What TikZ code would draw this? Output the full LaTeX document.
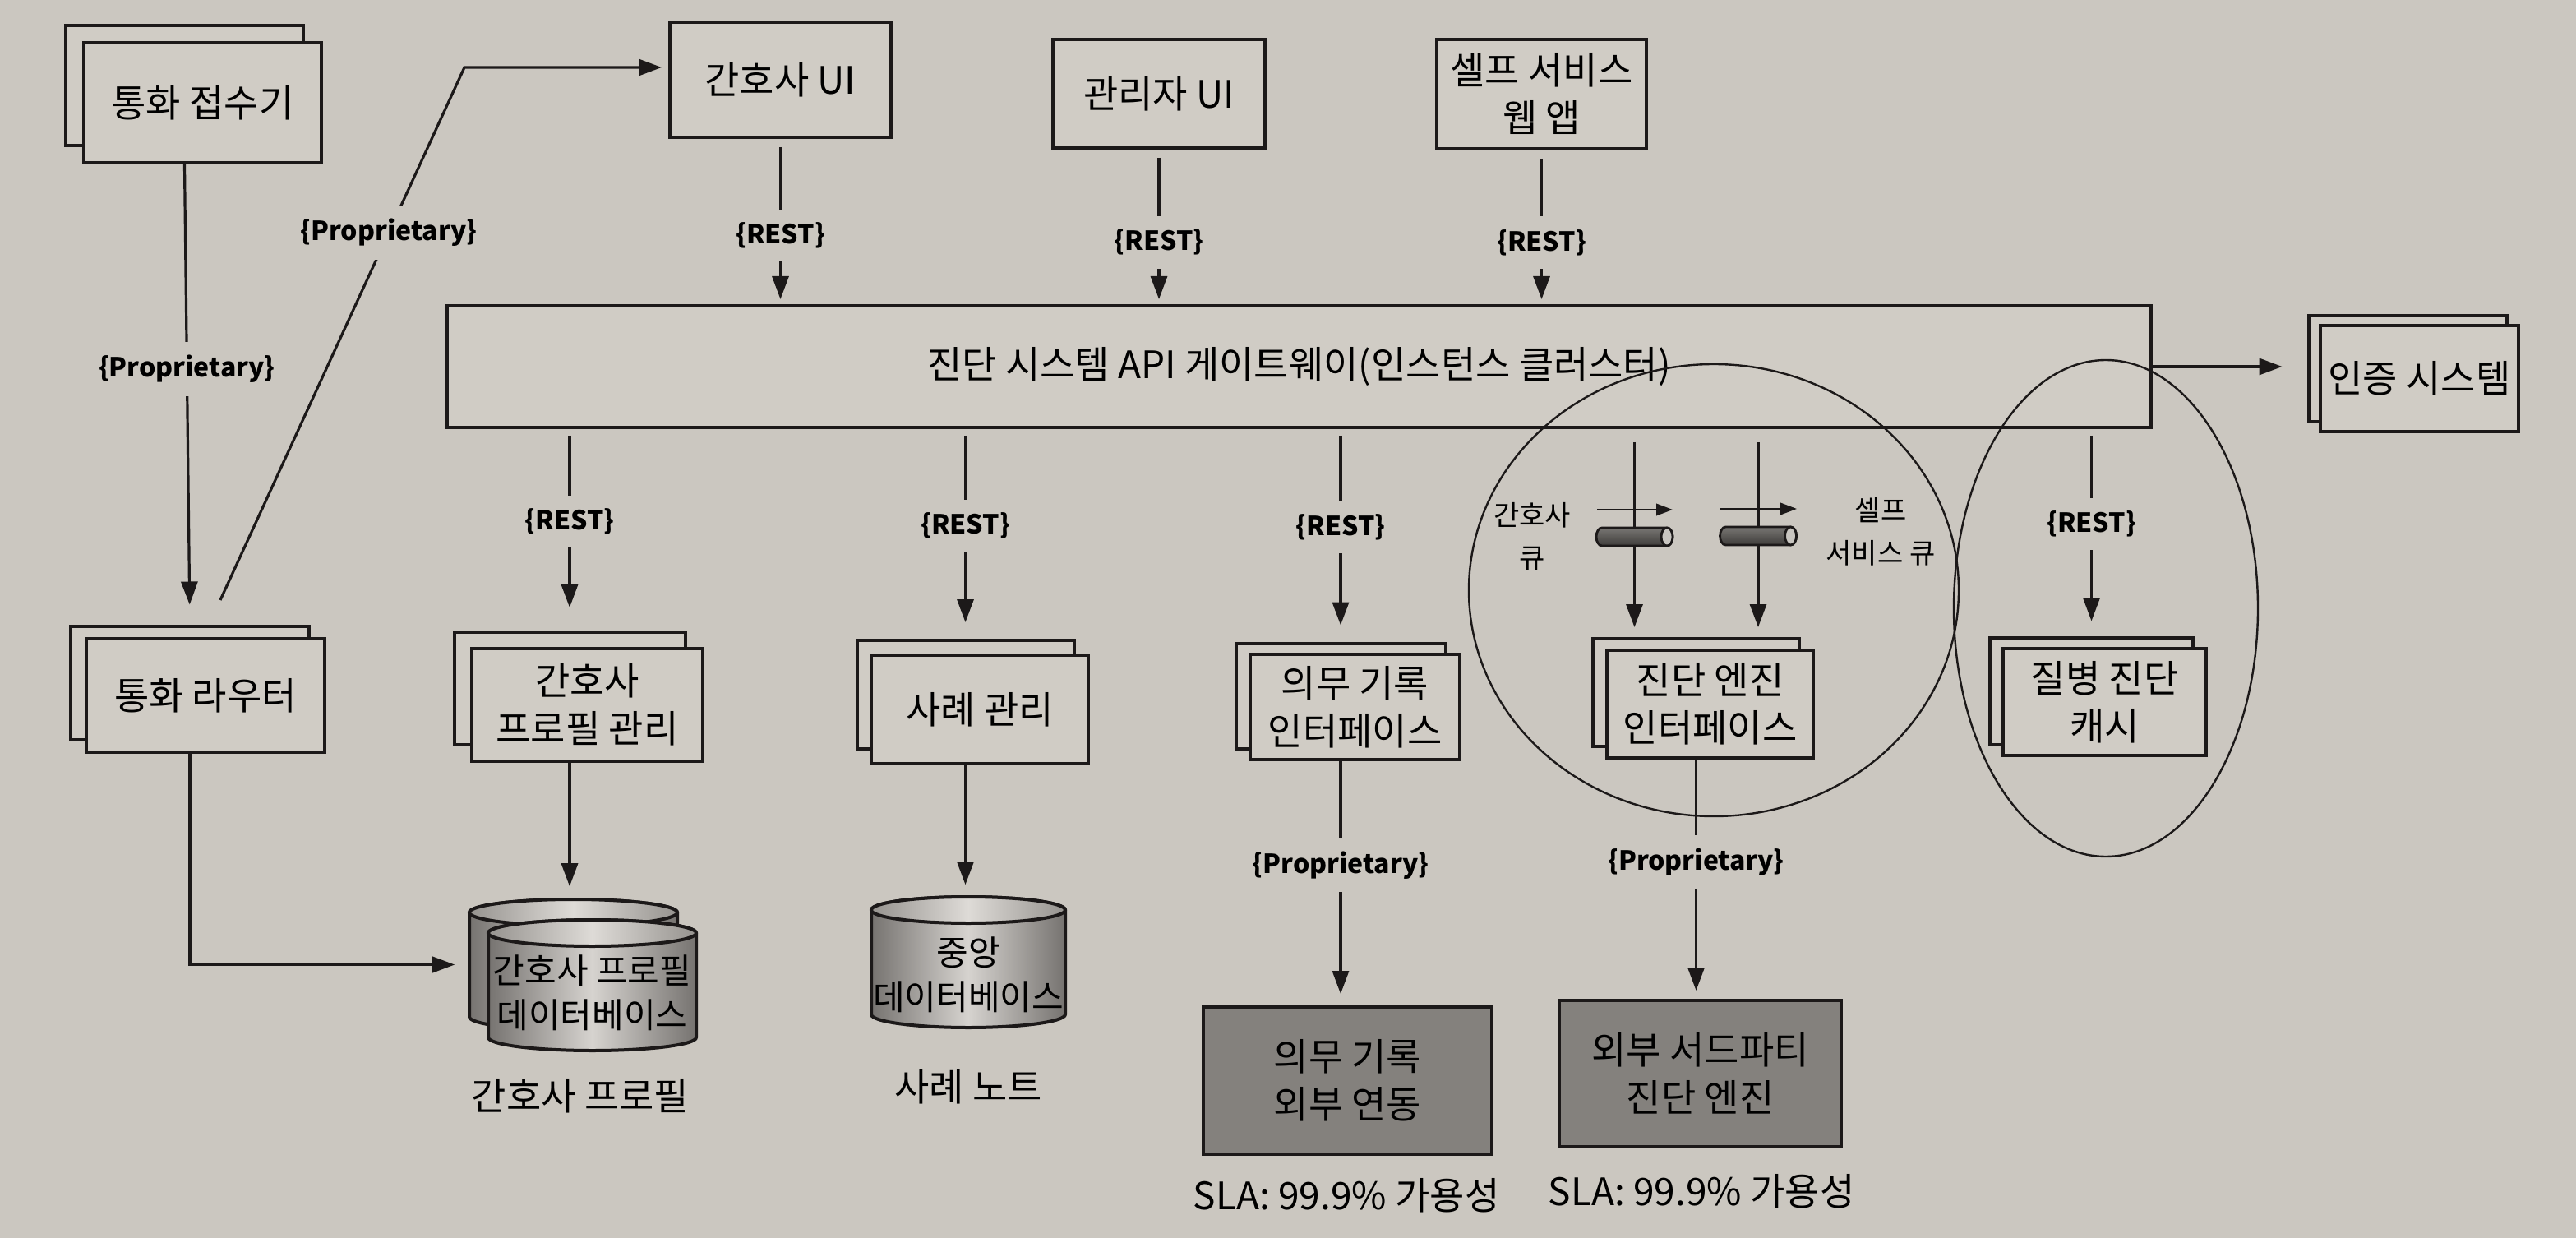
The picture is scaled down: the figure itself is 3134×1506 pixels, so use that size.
\documentclass[tikz,border=0pt]{standalone}
\usepackage{fontspec}
\setmainfont{Noto Sans CJK KR}
\usetikzlibrary{arrows.meta,calc}
\definecolor{cPaper}{RGB}{203,199,192}
\definecolor{cBox}{RGB}{208,204,197}
\definecolor{cDark}{RGB}{132,129,125}
\definecolor{cInk}{RGB}{28,25,25}
\definecolor{cCylA}{RGB}{118,115,112}
\definecolor{cCylB}{RGB}{214,211,207}
\definecolor{cTopA}{RGB}{150,147,143}
\definecolor{cTopB}{RGB}{222,219,215}
\definecolor{cQtop}{RGB}{120,118,115}
\definecolor{cQbot}{RGB}{62,60,58}
\definecolor{cQcap}{RGB}{200,197,192}
% cylinder drawn in explicit canvas units: #1 centre x, #2 top y, #3 bottom y, #4 half width (all in px, y down)
\newcommand\dbcyl[4]{%
  \path[draw=cInk, line width=1pt, left color=cCylA, right color=cCylA, middle color=cCylB]
    ({(#1-#4)*0.25pt},{-(#2+16)*0.25pt}) -- ({(#1-#4)*0.25pt},{-(#3-16)*0.25pt})
    arc[start angle=180,end angle=360,x radius=#4*0.25pt,y radius=4pt]
    -- ({(#1+#4)*0.25pt},{-(#2+16)*0.25pt})
    arc[start angle=0,end angle=180,x radius=#4*0.25pt,y radius=4pt] -- cycle;
  \path[draw=cInk, line width=1pt, left color=cTopA, right color=cTopA, middle color=cTopB]
    ({#1*0.25pt},{-(#2+16)*0.25pt}) ellipse [x radius=#4*0.25pt, y radius=4pt];}
\newcommand\qcyl[2]{%
  \path[draw=cInk, line width=0.7pt, top color=cQtop, bottom color=cQbot]
    ({(#1+39.5)*0.25pt},{-(#2-11)*0.25pt}) -- ({(#1-39.5)*0.25pt},{-(#2-11)*0.25pt})
    arc[start angle=90,end angle=270,x radius=1.75pt,y radius=2.75pt]
    -- ({(#1+39.5)*0.25pt},{-(#2+11)*0.25pt})
    arc[start angle=-90,end angle=90,x radius=1.75pt,y radius=2.75pt] -- cycle;
  \path[draw=cInk, line width=0.7pt, fill=cQcap] ({(#1+39.5)*0.25pt},{-#2*0.25pt}) ellipse [x radius=1.75pt, y radius=2.75pt];}
\begin{document}
\begin{tikzpicture}[x=0.25pt,y=-0.25pt,
  sz/.style 2 args={minimum width=#1*0.25pt, minimum height=#2*0.25pt},
  box/.style={draw=cInk, line width=1pt, fill=cBox, align=center, inner sep=0pt, font=\fontsize{11.5}{14.5}\selectfont},
  dbox/.style={box, fill=cDark},
  arr/.style={draw=cInk, line width=0.8pt, -{Triangle[length=7pt,width=5pt]}},
  sarr/.style={draw=cInk, line width=0.6pt, -{Triangle[length=5pt,width=3.6pt]}},
  lbl/.style={font=\bfseries\fontsize{8}{10}\selectfont, fill=cPaper, inner sep=4pt},
  txt/.style={align=center, inner sep=0pt, font=\fontsize{11.5}{14.5}\selectfont},
  cyltxt/.style={align=center, inner sep=0pt, font=\fontsize{10.5}{13.5}\selectfont},
  qtxt/.style={align=center, inner sep=0pt, font=\fontsize{8.5}{13}\selectfont},
  ring/.style={draw=cInk, line width=0.6pt}]
\fill[cPaper] (0,0) rectangle (3134,1506);
\useasboundingbox (0,0) rectangle (3134,1506);

% ---- top row
\node[box, sz={289}{146}] (recv-b) at (224.5,104) {};
\node[box, sz={289}{146}] (recv) at (246.5,125) {통화 접수기};
\node[box, sz={269}{140}] (nurseui) at (949.5,97) {간호사 UI};
\node[box, sz={258}{132}] (adminui) at (1410,114) {관리자 UI};
\node[box, sz={255}{133}] (selfweb) at (1875.5,114.5) {셀프 서비스\\웹 앱};

% ---- gateway and auth
\node[box, sz={2073}{148}] (gateway) at (1580.5,446) {진단 시스템 API 게이트웨이(인스턴스 클러스터)};
\node[box, sz={241}{129}] (auth-b) at (2929,448.5) {};
\node[box, sz={241}{129}] (auth) at (2943.5,460.5) {인증 시스템};

% ---- left column
\node[box, sz={290}{138}] (router-b) at (231,830.5) {};
\node[box, sz={290}{138}] (router) at (250,846) {통화 라우터};

% ---- service row
\node[box, sz={281}{137}] (npm-b) at (693,837.5) {};
\node[box, sz={281}{137}] (npm) at (714.5,857.5) {간호사\\프로필 관리};
\node[box, sz={264}{132}] (case-b) at (1174.5,845) {};
\node[box, sz={264}{132}] (case) at (1192,863) {사례 관리};
\node[box, sz={255}{128}] (med-b) at (1631,846.5) {};
\node[box, sz={255}{128}] (med) at (1648.5,860) {의무 기록\\인터페이스};
\node[box, sz={251}{131}] (eng-b) at (2063.5,842.5) {};
\node[box, sz={251}{131}] (eng) at (2080.5,856.5) {진단 엔진\\인터페이스};
\node[box, sz={247}{130}] (cache-b) at (2544.5,840.5) {};
\node[box, sz={247}{130}] (cache) at (2560.5,854) {질병 진단\\캐시};

% ---- external systems
\node[dbox, sz={351}{179}] (medext) at (1639.5,1314.5) {의무 기록\\외부 연동};
\node[dbox, sz={343}{178}] (diagext) at (2068.5,1306) {외부 서드파티\\진단 엔진};
\node[txt] (sla1) at (1638,1454) {SLA: 99.9\% 가용성};
\node[txt] (sla2) at (2070,1449) {SLA: 99.9\% 가용성};

% ---- databases
\dbcyl{697.5}{1094}{1253}{126.5}
\dbcyl{720.5}{1119}{1278}{126.5}
\node[inner sep=0pt, sz={253}{159}] (npdbb) at (697.5,1173.5) {};
\node[cyltxt, sz={253}{120}] (npdb) at (720.5,1208) {간호사 프로필\\데이터베이스};
\node[txt] (npcap) at (706,1333) {간호사 프로필};
\dbcyl{1178}{1091}{1250}{118}
\node[cyltxt, sz={236}{190}] (cdb) at (1178,1186) {중앙\\데이터베이스};
\node[txt] (cdbcap) at (1178,1322) {사례 노트};

% ---- connectors: top
\draw[arr, shorten >=6pt] (recv.south -| recv-b.south) -- node[lbl, pos=0.445]{\{Proprietary\}} (router-b.north);
\coordinate (rstart) at (268,730);
\coordinate (rbend) at (565,82);
\draw[arr, shorten >=2pt] (rstart) -- node[lbl, pos=0.69]{\{Proprietary\}} (rbend) -- (rbend -| nurseui.west);
\draw[arr, shorten <=2.5pt, shorten >=1.5pt] (nurseui.south) -- node[lbl, pos=0.585]{\{REST\}} (gateway.north -| nurseui.south);
\draw[arr, shorten <=2.5pt, shorten >=1.5pt] (adminui.south) -- node[lbl, pos=0.6]{\{REST\}} (gateway.north -| adminui.south);
\draw[arr, shorten <=2.5pt, shorten >=1.5pt] (selfweb.south) -- node[lbl, pos=0.6]{\{REST\}} (gateway.north -| selfweb.south);
\draw[arr, shorten >=7.5pt] (gateway.east) -- (auth-b.west |- gateway.east);

% ---- connectors: gateway to services
\draw[arr, shorten <=2pt, shorten >=7pt] (gateway.south -| npm-b.north) -- node[lbl, pos=0.46]{\{REST\}} (npm-b.north);
\draw[arr, shorten <=2pt, shorten >=5pt] (gateway.south -| case-b.north) -- node[lbl, pos=0.46]{\{REST\}} (case-b.north);
\draw[arr, shorten <=2pt, shorten >=5pt] (gateway.south -| med-b.north) -- node[lbl, pos=0.46]{\{REST\}} (med-b.north);
\draw[arr, shorten <=2pt, shorten >=4.5pt] (gateway.south -| cache-b.north) -- node[lbl, pos=0.46]{\{REST\}} (cache-b.north);

% ---- queues
\coordinate (q1) at (1988.5,0);
\coordinate (q2) at (2139,0);
\draw[arr, shorten <=4pt, shorten >=3pt] (gateway.south -| q1) -- (eng-b.north -| q1);
\draw[arr, shorten <=4pt, shorten >=3pt] (gateway.south -| q2) -- (eng-b.north -| q2);
\coordinate (h1a) at (1943,620);
\coordinate (h1b) at (2035,620);
\coordinate (h2a) at (2092,619);
\coordinate (h2b) at (2186,619);
\draw[sarr] (h1a) -- (h1b);
\draw[sarr] (h2a) -- (h2b);
\qcyl{1988.5}{653}
\qcyl{2139}{652}
\node[qtxt] (q1lbl) at (1864,653) {간호사\\큐};
\node[qtxt] (q2lbl) at (2288,647) {셀프\\서비스 큐};

% ---- connectors: lower
\draw[arr] (router.south -| router-b.south) |- ([xshift=-4.25pt]npdbb.west);
\draw[arr, shorten >=3.75pt] (npm.south -| npm-b.south) -- (npdbb.north -| npm-b.south);
\draw[arr, shorten >=3.5pt] (case.south -| case-b.south) -- (cdb.north -| case-b.south);
\draw[arr, shorten >=3.5pt] (med.south -| med-b.south) -- node[lbl, pos=0.425]{\{Proprietary\}} (medext.north -| med-b.south);
\draw[arr, shorten >=2.5pt] (eng.south -| eng-b.south) -- node[lbl, pos=0.43]{\{Proprietary\}} (diagext.north -| eng-b.south);

% ---- grouping ellipses
\draw[ring] (2085,718) ellipse [x radius=298, y radius=275];
\draw[ring] (2562,740) ellipse [x radius=185, y radius=302];
\end{tikzpicture}
\end{document}
